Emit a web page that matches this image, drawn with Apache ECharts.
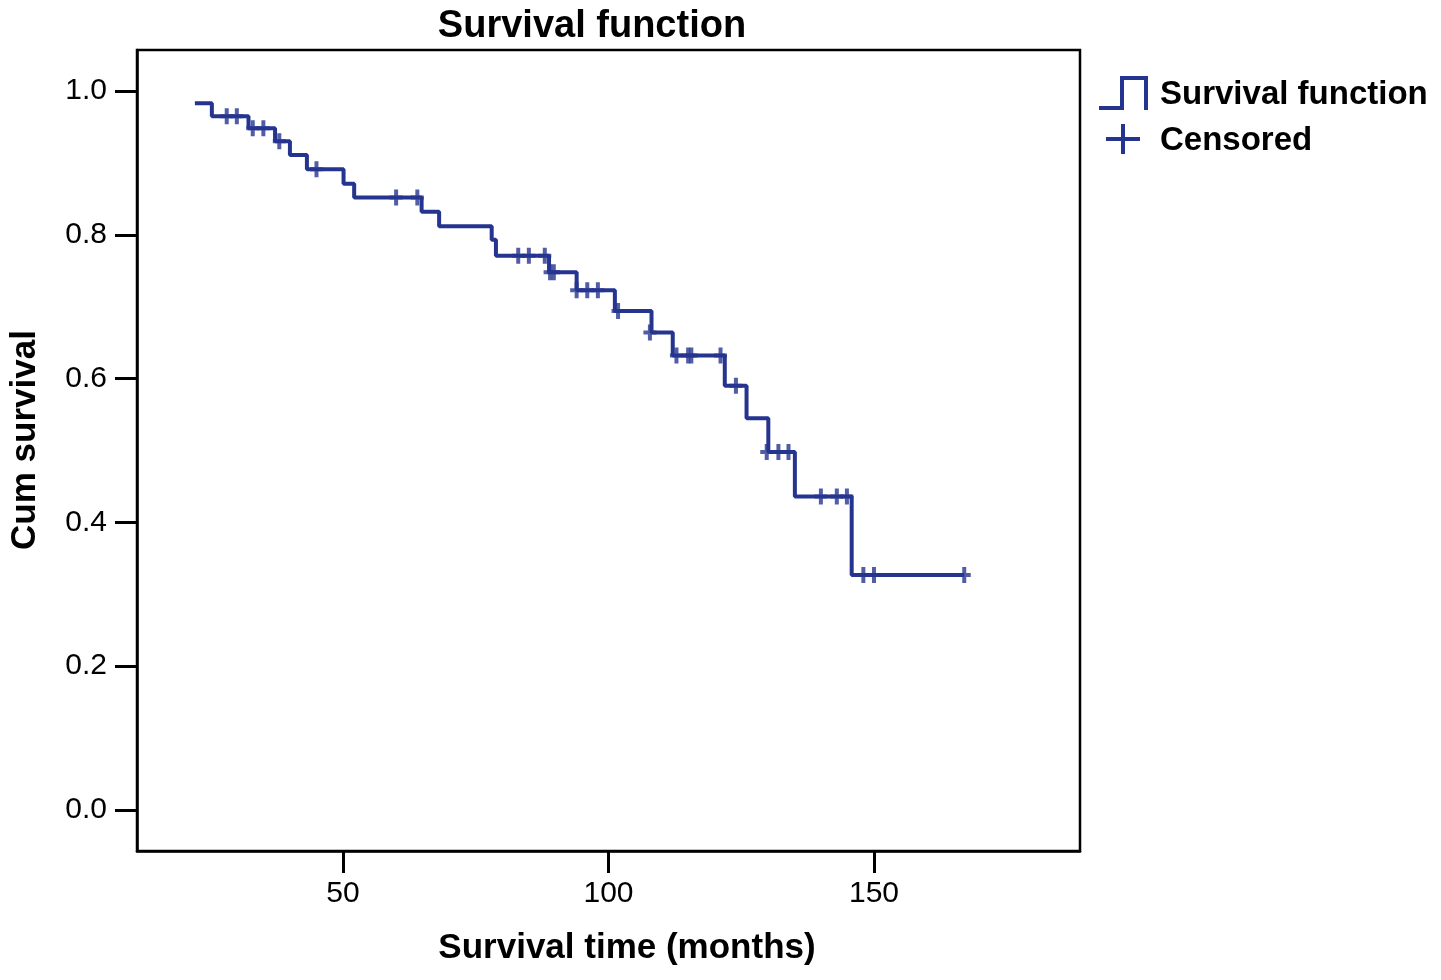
<!DOCTYPE html>
<html>
<head>
<meta charset="utf-8">
<script src="https://cdn.jsdelivr.net/npm/echarts@6/dist/echarts.min.js"></script>
<style>
html,body{margin:0;padding:0;background:#fff;}
#chart{width:1441px;height:980px;}
</style>
</head>
<body>
<div id="chart"></div>
<script>
// Step (event) points: time of event and survival after the event
const eventTimes = [22.1, 25.3, 32.2, 37.2, 40.0, 43.2, 50.1, 52.1, 64.8, 68.1, 78.0, 78.8, 88.8, 94.0, 101.2, 108.1, 112.1, 121.9, 126.0, 130.1, 135.1, 145.8, 167.0];
const survivalValues = [0.983, 0.965, 0.948, 0.930, 0.911, 0.891, 0.871, 0.852, 0.832, 0.812, 0.793, 0.771, 0.748, 0.723, 0.694, 0.664, 0.632, 0.590, 0.545, 0.498, 0.436, 0.327, 0.327];
// Censored observations
const censorTimes = [28.1, 30.0, 33.0, 35.0, 38.0, 45.0, 60.0, 64.0, 83.0, 85.0, 88.0, 89.0, 89.7, 94.0, 96.0, 98.0, 101.8, 107.8, 112.8, 115.0, 115.6, 121.1, 124.0, 129.8, 132.0, 133.9, 140.0, 143.0, 144.9, 148.0, 150.0, 167.0];
const censorValues = [0.965, 0.965, 0.948, 0.948, 0.930, 0.891, 0.852, 0.852, 0.771, 0.771, 0.771, 0.748, 0.748, 0.723, 0.723, 0.723, 0.694, 0.664, 0.632, 0.632, 0.632, 0.632, 0.590, 0.498, 0.498, 0.498, 0.436, 0.436, 0.436, 0.327, 0.327, 0.327];
const xTickValues = [50, 100, 150];
const yTickValues = [0, 0.2, 0.4, 0.6, 0.8, 1.0];

const titleText = 'Survival function';
const xName = 'Survival time (months)';
const yName = 'Cum survival';
const legendNames = ['Survival function', 'Censored'];

const blue = '#25348e';
const font = '"Liberation Sans", Arial, sans-serif';

const chart = echarts.init(document.getElementById('chart'));
const stepData = eventTimes.map((t, i) => [t, survivalValues[i]]);
const censorData = censorTimes.map((t, i) => [t, censorValues[i]]);

chart.setOption({
  animation: false,
  backgroundColor: '#fff',
  grid: {left: 137, right: 361, top: 50, bottom: 129, show: true, borderColor: '#000', borderWidth: 2.5, backgroundColor: 'transparent'},
  xAxis: {
    type: 'value', position: 'bottom', min: 11.2, max: 188.8,
    splitLine: {show: false},
    axisLine: {show: true, onZero: false, lineStyle: {color: '#000', width: 2.5}},
    axisTick: {show: true, inside: false, length: 22, lineStyle: {color: '#000', width: 3}, customValues: xTickValues},
    axisLabel: {customValues: xTickValues, color: '#000', fontFamily: font, fontSize: 30, margin: 28}
  },
  yAxis: {
    type: 'value', position: 'left', min: -0.057, max: 1.057,
    splitLine: {show: false},
    axisLine: {show: true, onZero: false, lineStyle: {color: '#000', width: 2.5}},
    axisTick: {show: true, inside: false, length: 22, lineStyle: {color: '#000', width: 3}, customValues: yTickValues},
    axisLabel: {customValues: yTickValues, color: '#000', fontFamily: font, fontSize: 30, margin: 30,
      formatter: v => v.toFixed(1)}
  },
  series: [
    {
      name: legendNames[0], type: 'line', step: 'end', data: stepData,
      symbol: 'none', lineStyle: {color: blue, width: 4}, z: 2
    },
    {
      name: legendNames[1], type: 'scatter', data: censorData,
      symbol: 'path://M-2,-8 h4 v6 h4.5 v4 h-4.5 v6 h-4 v-6 h-4.5 v-4 h4.5 z',
      symbolSize: [13, 16], itemStyle: {color: blue}, z: 3
    }
  ],
  graphic: [
    {type: 'text', x: 592, y: 27, style: {text: titleText, fill: '#000', font: 'bold 38px ' + font, textAlign: 'center', textVerticalAlign: 'middle'}},
    {type: 'text', x: 627, y: 948, style: {text: xName, fill: '#000', font: 'bold 35px ' + font, textAlign: 'center', textVerticalAlign: 'middle'}},
    {type: 'text', x: 25, y: 440, rotation: Math.PI / 2, style: {text: yName, fill: '#000', font: 'bold 35px ' + font, textAlign: 'center', textVerticalAlign: 'middle'}},
    {type: 'polyline', shape: {points: [[1099, 108], [1122, 108], [1122, 78], [1146, 78], [1146, 110]]}, style: {stroke: blue, lineWidth: 4, fill: null}},
    {type: 'line', shape: {x1: 1106, y1: 139, x2: 1140, y2: 139}, style: {stroke: blue, lineWidth: 4}},
    {type: 'line', shape: {x1: 1123, y1: 124, x2: 1123, y2: 154}, style: {stroke: blue, lineWidth: 4}},
    {type: 'text', x: 1160, y: 95, style: {text: legendNames[0], fill: '#000', font: 'bold 33px ' + font, textAlign: 'left', textVerticalAlign: 'middle'}},
    {type: 'text', x: 1160, y: 141, style: {text: legendNames[1], fill: '#000', font: 'bold 33px ' + font, textAlign: 'left', textVerticalAlign: 'middle'}}
  ]
});
</script>
</body>
</html>
